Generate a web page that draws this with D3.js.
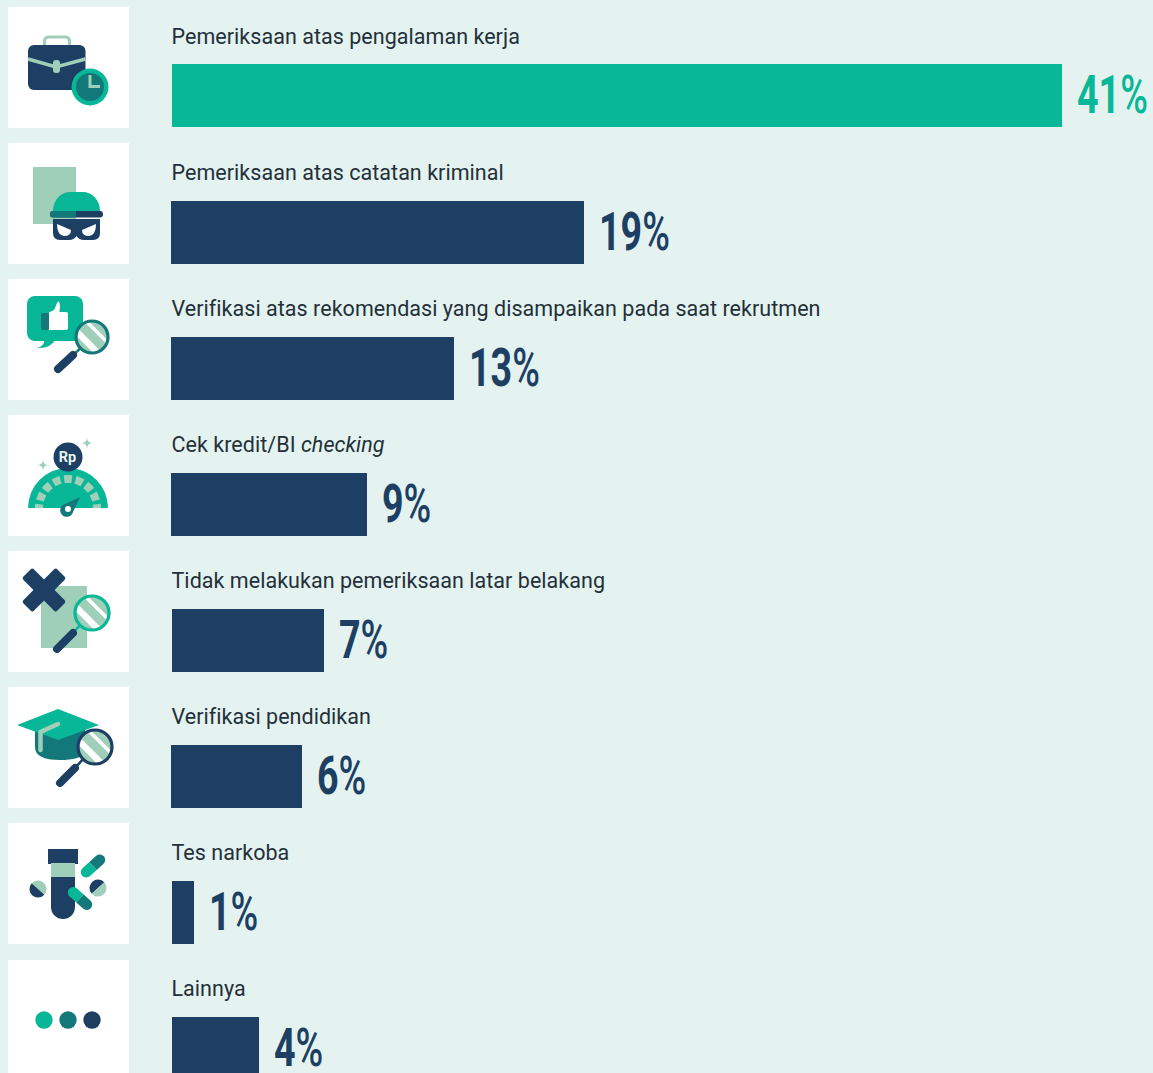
<!DOCTYPE html>
<html><head><meta charset="utf-8">
<script src="https://cdn.jsdelivr.net/npm/d3@7/dist/d3.min.js"></script>
<style>html,body{margin:0;padding:0;background:#e4f3f0;overflow:hidden}svg{display:block}</style>
</head><body><div id="c"></div>
<script>
const categories = ["Pemeriksaan atas pengalaman kerja","Pemeriksaan atas catatan kriminal","Verifikasi atas rekomendasi yang disampaikan pada saat rekrutmen","Cek kredit/BI |checking","Tidak melakukan pemeriksaan latar belakang","Verifikasi pendidikan","Tes narkoba","Lainnya"];
const values = [41,19,13,9,7,6,1,4];
const G="#08b797",N="#1c3f63",T="#13787a",L="#9fcfb8",W="#fff",BG="#e4f3f0";
const svg=d3.select("#c").append("svg").attr("width",1153).attr("height",1073);
svg.append("rect").attr("width",1153).attr("height",1073).attr("fill",BG);
const x=d3.scaleLinear().domain([0,41]).range([0,890]);
const y=d3.scaleBand().domain(d3.range(categories.length)).range([0,1088]);
const barX=i=>[172,171,171,171,172,171,172,172][i];
const barEnd=i=>Math.round(172+x(values[i]));
const barTop=i=>i?65:64;
const rows=svg.selectAll("g.row").data(categories).join("g").attr("class","row").attr("transform",(d,i)=>`translate(0,${y(i)})`);
rows.append("rect").attr("x",8).attr("y",(d,i)=>i==7?8:7).attr("width",121).attr("height",121).attr("fill",W);
rows.append("rect").attr("x",(d,i)=>barX(i)).attr("y",(d,i)=>barTop(i)).attr("height",63).attr("width",(d,i)=>barEnd(i)-barX(i)).attr("fill",(d,i)=>i==0?G:N);
const lab=rows.append("text").attr("x",171.5).attr("y",44).attr("font-family","Roboto").attr("font-size",21.5).attr("letter-spacing",0.04).attr("fill","#23303a");
lab.each(function(d){const p=d.split("|"),t=d3.select(this);t.append("tspan").text(p[0]);if(p[1])t.append("tspan").attr("font-style","italic").text(p[1]);});
const vl=rows.append("text").attr("transform",(d,i)=>`translate(${barEnd(i)+15},${barTop(i)+49}) scale(0.71,1)`)
 .attr("font-family","Roboto").attr("font-weight",700).attr("font-size",53).attr("fill",(d,i)=>i==0?G:N);
vl.append("tspan").text((d,i)=>values[i]);
vl.append("tspan").attr("font-weight",500).text("%");

function root(i){return svg.append("g").attr("transform",`translate(0,${y(i)+(i==0?0:i==7?8:7)})`);}
function rect(g,a,b,c,d,f,r){return g.append("rect").attr("x",a).attr("y",b).attr("width",c-a).attr("height",d-b).attr("rx",r||0).attr("fill",f);}
function circ(g,a,b,r,f){return g.append("circle").attr("cx",a).attr("cy",b).attr("r",r).attr("fill",f);}
function path(g,d,f,s,w){return g.append("path").attr("d",d).attr("fill",f||"none").attr("stroke",s||"none").attr("stroke-width",w||0);}
let clipId=0;
function lens(g,cx,cy,r,ring,hx,hy,hx2,hy2){
  const id="cl"+(clipId++);
  g.append("clipPath").attr("id",id).append("circle").attr("cx",cx).attr("cy",cy).attr("r",r);
  path(g,`M${hx2} ${hy2}L${cx-r*0.6} ${cy+r*0.6}`,null,ring,2.5);
  g.append("line").attr("x1",hx).attr("y1",hy).attr("x2",hx2).attr("y2",hy2).attr("stroke",N).attr("stroke-width",8).attr("stroke-linecap","round");
  const c=g.append("g").attr("clip-path",`url(#${id})`);
  circ(c,cx,cy,r,L);
  [[-5,6.5],[5,3.5]].forEach(o=>c.append("line").attr("x1",cx-24+o[0]).attr("y1",cy-24-o[0]).attr("x2",cx+24+o[0]).attr("y2",cy+24-o[0]).attr("stroke",W).attr("stroke-width",o[1]));
  circ(g,cx,cy,r,"none").attr("stroke",ring).attr("stroke-width",3.2);
}
// briefcase
{const g=root(0);
 g.append("rect").attr("x",44.5).attr("y",37).attr("width",25).attr("height",16).attr("rx",4).attr("fill","none").attr("stroke",L).attr("stroke-width",3.2);
 rect(g,28,45,85.5,90,N,6);
 path(g,"M28 59L56 67L85.5 59",null,L,3.5);
 rect(g,53,60,60,73,L,3);
 circ(g,90,87,18.5,G);circ(g,90,87,14,T);
 path(g,"M90 75V86.5H100",null,L,3);}
// burglar
{const g=root(1);
 rect(g,33,24,76,81,L);
 path(g,"M53 68C53 56 62 49 70 49H83C91 49 100 56 100 68Z",G);
 rect(g,50,68,103,74.5,N,3);
 const id="bandclip";g.append("clipPath").attr("id",id).append("rect").attr("x",33).attr("y",60).attr("width",43).attr("height",20);
 rect(g,50,68,103,74.5,T,3).attr("clip-path",`url(#${id})`);
 path(g,"M53 76H100V90Q100 97 93 97H84Q79 97 76.5 93Q74 97 69 97H60Q53 97 53 90Z",N);
 path(g,"M57 81L71 87Q71 93 64 93Q57 92 57 81Z",W);
 path(g,"M96 81L82 87Q82 93 89 93Q96 92 96 81Z",W);}
// thumbs up
{const g=root(2);
 rect(g,27,17,83,62,G,8);
 path(g,"M43 58Q47 66 37 69Q50 70 56 60Z",G);
 path(g,"M49 33Q54 32 55 29L57 24Q59 20 60 26L59.5 33H66Q68 33 68 35V49Q68 51 66 51H49Z",W);
 rect(g,41,34,49,51,T,2);
 circ(g,92,58,16,W);
 lens(g,92,58,16,T,58,90,73,76);}
// gauge
{const g=root(3);
 path(g,"M28 93A40 40 0 0 1 108 93Z",G);
 const arc=d3.arc().innerRadius(25).outerRadius(33);
 const deg=Math.PI/180;
 d3.range(9).forEach(k=>{const c=-90+22.5*k;g.append("path").attr("transform","translate(68,93)").attr("fill",L)
   .attr("d",arc({startAngle:Math.max(-90,c-7.5)*deg,endAngle:Math.min(90,c+7.5)*deg}));});
 circ(g,68,42,14.5,N);
 g.append("text").attr("x",67.5).attr("y",47).attr("text-anchor","middle").attr("font-family","Roboto").attr("font-weight",700).attr("font-size",14.5).attr("fill","#e4f3f0").text("Rp");
 [[87,28,6],[43,50,6]].forEach(s=>path(g,`M${s[0]} ${s[1]-s[2]}Q${s[0]} ${s[1]} ${s[0]+s[2]} ${s[1]}Q${s[0]} ${s[1]} ${s[0]} ${s[1]+s[2]}Q${s[0]} ${s[1]} ${s[0]-s[2]} ${s[1]}Q${s[0]} ${s[1]} ${s[0]} ${s[1]-s[2]}Z`,L));
 path(g,"M80 82L73 97A6.5 6.5 0 1 1 63 90Z",T);
 circ(g,68,94,3,W);}
// X
{const g=root(4);
 rect(g,41,35,87,97,L);
 g.append("g").attr("transform","translate(44,39) rotate(45)").call(s=>{rect(s,-24,-7.5,24,7.5,N,2.5);rect(s,-7.5,-24,7.5,24,N,2.5);});
 lens(g,92,62,17,G,57,98,73,82);}
// cap
{const g=root(5);
 path(g,"M35 38V60Q35 73 60 73Q80 73 85 66V38Z",T);
 path(g,"M17 38L58 22L99 38L58 53Z",G);
 g.append("path").attr("d","M40.5 63V45L58 37").attr("fill","none").attr("stroke",L).attr("stroke-width",4.5).attr("stroke-linecap","round");
 circ(g,95,60,17,W);
 lens(g,95,60,17,N,60,96,75,81);}
// tube
{const g=root(6);
 rect(g,48,26,78,41,N);
 rect(g,51,40,75,54,L);
 path(g,"M51 54H75V84A12 12 0 0 1 51 84Z",N);
 function split(cx,cy,r,a,f1,f2){const h=g.append("g").attr("transform",`translate(${cx},${cy}) rotate(${a})`);
   path(h,`M${-r} 0A${r} ${r} 0 0 1 ${r} 0Z`,f1);path(h,`M${-r} 0A${r} ${r} 0 0 0 ${r} 0Z`,f2);}
 split(38,66,8.5,42,L,N);split(98,65,8.5,-42,N,L);
 function cap(cx,cy,a,f1,f2){const h=g.append("g").attr("transform",`translate(${cx},${cy}) rotate(${a})`);
   path(h,"M0 -5.5H-9A5.5 5.5 0 0 0 -9 5.5H0Z",f1);path(h,"M0 -5.5H9A5.5 5.5 0 0 1 9 5.5H0Z",f2);}
 cap(93,43,-42,G,T);cap(80,75.5,42,G,T);}
// dots
{const g=root(7);
 circ(g,44,60,8.7,G);circ(g,68,60,8.7,T);circ(g,92,60,8.7,N);}
</script></body></html>
